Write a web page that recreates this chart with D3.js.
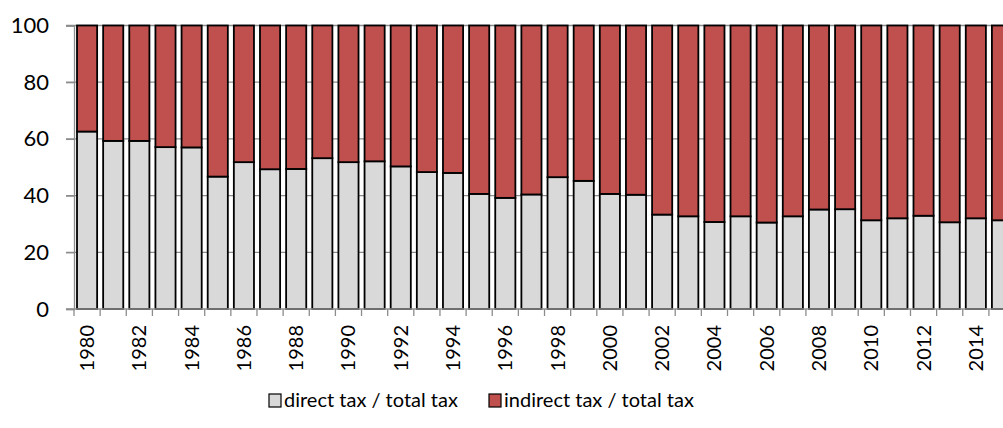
<!DOCTYPE html>
<html>
<head>
<meta charset="utf-8">
<script src="https://cdn.jsdelivr.net/npm/d3@7/dist/d3.min.js"></script>
<style>
  html, body { margin: 0; padding: 0; background: #fff; overflow: hidden; }
  svg { display: block; font-family: Lato, "Open Sans", sans-serif; }
</style>
</head>
<body>
<svg id="chart" width="1003" height="428"></svg>
<script>
const years = d3.range(1980, 2016).map(String);
const directShare = [62.6, 59.3, 59.3, 57.1, 57.0, 46.7, 51.8, 49.3, 49.4, 53.2,
                     51.8, 52.1, 50.3, 48.3, 48.0, 40.6, 39.2, 40.4, 46.5, 45.2,
                     40.6, 40.3, 33.3, 32.7, 30.7, 32.7, 30.5, 32.7, 35.1, 35.2,
                     31.3, 32.0, 32.9, 30.6, 32.0, 31.3];
const indirectShare = directShare.map(d => +(100 - d).toFixed(1));
const seriesNames = ["direct tax / total tax", "indirect tax / total tax"];
const seriesColors = ["#D9D9D9", "#C0504D"];
const yTicks = [0, 20, 40, 60, 80, 100];

const svg = d3.select("#chart");
const plotLeft = 74, plotTop = 25.5, plotBottom = 309;
const step = 26.14;
const plotRight = plotLeft + step * years.length;

const x = d3.scaleBand().domain(years).range([plotLeft, plotRight]).paddingInner(0.23).paddingOuter(0.115);
const y = d3.scaleLinear().domain([0, 100]).range([plotBottom, plotTop]);

// gridlines
svg.append("g").selectAll("line").data(yTicks.filter(d => d > 0)).join("line")
  .attr("x1", plotLeft - 8).attr("x2", 1003)
  .attr("y1", d => y(d)).attr("y2", d => y(d))
  .attr("stroke", "#8c8c8c").attr("stroke-width", 1.3);

// y axis
const yAxis = svg.append("g").attr("transform", `translate(${plotLeft},0)`)
  .call(d3.axisLeft(y).tickValues(yTicks).tickSize(8).tickPadding(17));
yAxis.select(".domain").attr("stroke", "#8c8c8c").attr("stroke-width", 1.3);
yAxis.selectAll(".tick line").attr("stroke", "#8c8c8c").attr("stroke-width", 1.3);
yAxis.selectAll("text").attr("font-size", 22).attr("fill", "#000").attr("font-family", "Lato, sans-serif");

// stacked bars
const rows = years.map((yr, i) => ({ year: yr, direct: directShare[i], indirect: indirectShare[i] }));
const stack = d3.stack().keys(["direct", "indirect"])(rows);
svg.append("g").selectAll("g").data(stack).join("g")
  .attr("fill", (d, i) => seriesColors[i])
  .selectAll("rect").data(d => d).join("rect")
  .attr("x", d => x(d.data.year))
  .attr("width", x.bandwidth())
  .attr("y", d => y(d[1]))
  .attr("height", d => y(d[0]) - y(d[1]))
  .attr("stroke", "#000").attr("stroke-width", 1.8);

// x axis
const xAxis = svg.append("g").attr("transform", `translate(0,${plotBottom})`)
  .call(d3.axisBottom(x).tickSize(0).tickFormat(d => (+d % 2 === 0 ? d : "")));
xAxis.select(".domain").remove();
svg.append("line").attr("x1", plotLeft - 8).attr("x2", 1003).attr("y1", plotBottom).attr("y2", plotBottom)
  .attr("stroke", "#8c8c8c").attr("stroke-width", 1.3);
// category boundary ticks
svg.append("g").selectAll("line").data(d3.range(years.length + 1)).join("line")
  .attr("x1", i => plotLeft + i * step).attr("x2", i => plotLeft + i * step)
  .attr("y1", plotBottom).attr("y2", plotBottom + 7)
  .attr("stroke", "#8c8c8c").attr("stroke-width", 1.3);
xAxis.selectAll("text")
  .attr("font-size", 20).attr("fill", "#000").attr("font-family", "Lato, sans-serif")
  .attr("text-anchor", "end").attr("dy", "0.35em")
  .attr("transform", "translate(0,16) rotate(-90)")
  .attr("x", 0).attr("y", 0);

// legend
const legend = svg.append("g");
const legendX = [269, 489];
seriesNames.forEach((name, i) => {
  legend.append("rect").attr("x", legendX[i]).attr("y", 394).attr("width", 12).attr("height", 13)
    .attr("fill", seriesColors[i]).attr("stroke", "#000").attr("stroke-width", 1.2);
  legend.append("text").attr("x", legendX[i] + 15).attr("y", 407)
    .attr("font-size", 20).attr("fill", "#000").text(name);
});
</script>
</body>
</html>
